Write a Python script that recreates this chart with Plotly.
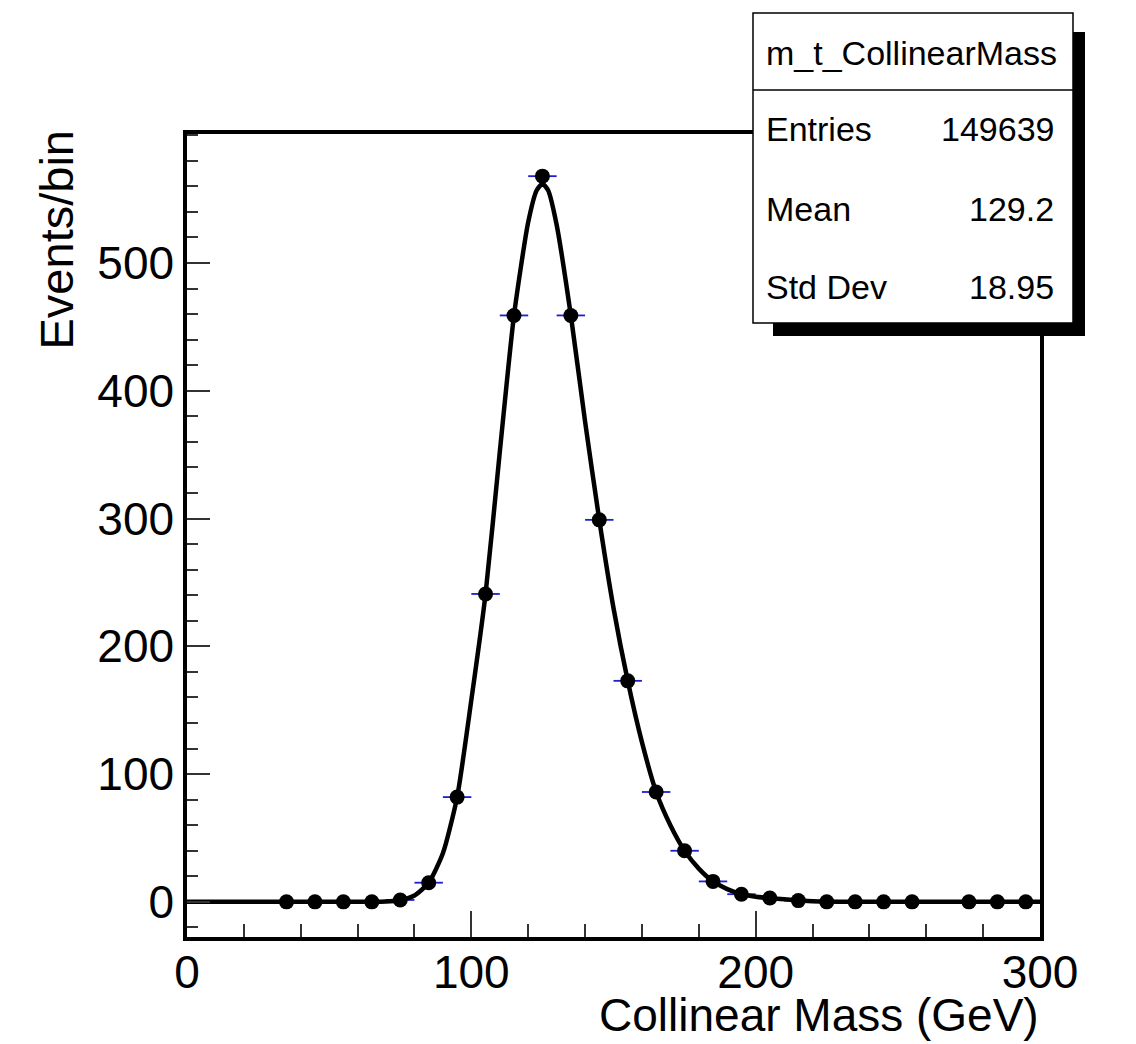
import plotly.graph_objects as go

# ---- data ----
bin_centers = [35, 45, 55, 65, 75, 85, 95, 105, 115, 125, 135, 145, 155, 165, 175,
               185, 195, 205, 215, 225, 235, 245, 255, 275, 285, 295]
events = [0, 0, 0, 0, 1.5, 15, 82, 241, 459, 568, 459, 299, 173, 86, 40,
          16, 6, 3, 1, 0, 0, 0, 0, 0, 0, 0]
bin_half_width = [5] * len(bin_centers)

fit_x = [0, 60, 70, 75, 80, 85, 90, 95, 100, 105, 110, 115, 120, 123, 125, 127, 130, 135, 140,
         145, 150, 155, 160, 165, 170, 175, 180, 185, 190, 195, 200, 210, 220, 240, 300]
fit_y = [0, 0, 0.3, 1.5, 5, 15, 38, 82, 158, 241, 352, 459, 532, 557, 562, 557, 530, 459, 376,
         299, 230, 173, 125, 86, 60, 40, 26, 16, 10, 6, 4, 2, 0.5, 0, 0]

y_tick_values = [0, 100, 200, 300, 400, 500]
x_tick_values = [0, 100, 200, 300]

stats_title = "m_t_CollinearMass"
stats_labels = ["Entries", "Mean", "Std Dev"]
stats_values = ["149639", "129.2", "18.95"]

x_title = "Collinear Mass (GeV)"
y_title = "Events/bin"

# ---- layout geometry (pixels) ----
W, H = 1136, 1044
PL, PR, PT, PB = 187, 1040, 134, 937


def px(xp):
    return (xp - PL) / (PR - PL)


def py(yp):
    return (PB - yp) / (PB - PT)


FONT = "Liberation Sans, Arial, Helvetica, sans-serif"

fig = go.Figure()

fig.add_trace(go.Scatter(
    x=bin_centers, y=events, mode="markers",
    marker=dict(color="black", size=15, symbol="circle"),
    error_x=dict(type="data", array=bin_half_width, width=0, thickness=1.8,
                 color="rgb(30,30,210)"),
    showlegend=False, hoverinfo="x+y",
))

fig.add_trace(go.Scatter(
    x=fit_x, y=fit_y, mode="lines",
    line=dict(color="black", width=4.5, shape="spline", smoothing=0.6),
    showlegend=False, hoverinfo="skip",
))

axis_common = dict(
    showline=True, linecolor="black", linewidth=3.5, mirror=True,
    showgrid=False, zeroline=False,
    ticks="inside", tickcolor="#333", tickwidth=2,
    tickfont=dict(family=FONT, size=46, color="black"),
)

fig.update_xaxes(range=[0, 300], tickvals=x_tick_values, ticklen=26, ticklabelstandoff=-8,
                 minor=dict(dtick=20, ticklen=13, ticks="inside", tickcolor="#333", tickwidth=2),
                 **axis_common)
fig.update_yaxes(range=[-27.5, 601], tickvals=y_tick_values, ticklen=23,
                 minor=dict(dtick=20, ticklen=11, ticks="inside", tickcolor="#333", tickwidth=2),
                 **axis_common)

shapes = [
    # shadow of stats box
    dict(type="rect", xref="paper", yref="paper", x0=px(773), x1=px(1085), y0=py(336), y1=py(32),
         fillcolor="black", line=dict(width=0), layer="above"),
    # stats box
    dict(type="rect", xref="paper", yref="paper", x0=px(753), x1=px(1073), y0=py(323), y1=py(13),
         fillcolor="white", line=dict(color="black", width=1.5), layer="above"),
    # divider
    dict(type="line", xref="paper", yref="paper", x0=px(753), x1=px(1073), y0=py(90), y1=py(90),
         line=dict(color="black", width=1.5), layer="above"),
]

annotations = [
    dict(text=stats_title, xref="paper", yref="paper", x=px(764), y=py(53),
         xanchor="left", yanchor="middle", showarrow=False,
         font=dict(family=FONT, size=34, color="black")),
    dict(text=x_title, xref="paper", yref="paper", x=px(1041), y=py(1043),
         xanchor="right", yanchor="bottom", showarrow=False,
         font=dict(family=FONT, size=46, color="black")),
    dict(text=y_title, xref="paper", yref="paper", x=px(56), y=py(129),
         xanchor="center", yanchor="top", textangle=-90, showarrow=False,
         font=dict(family=FONT, size=47, color="black")),
]
for lab, val, yc in zip(stats_labels, stats_values, [129, 209, 287]):
    annotations.append(dict(text=lab, xref="paper", yref="paper", x=px(764), y=py(yc),
                            xanchor="left", yanchor="middle", showarrow=False,
                            font=dict(family=FONT, size=34, color="black")))
    annotations.append(dict(text=val, xref="paper", yref="paper", x=px(1056), y=py(yc),
                            xanchor="right", yanchor="middle", showarrow=False,
                            font=dict(family=FONT, size=34, color="black")))

fig.update_layout(
    width=W, height=H,
    margin=dict(l=PL, r=W - PR, t=PT, b=H - PB, pad=0),
    paper_bgcolor="white", plot_bgcolor="white",
    shapes=shapes, annotations=annotations,
    font=dict(family=FONT, color="black"),
)

fig.write_html("out.html")
